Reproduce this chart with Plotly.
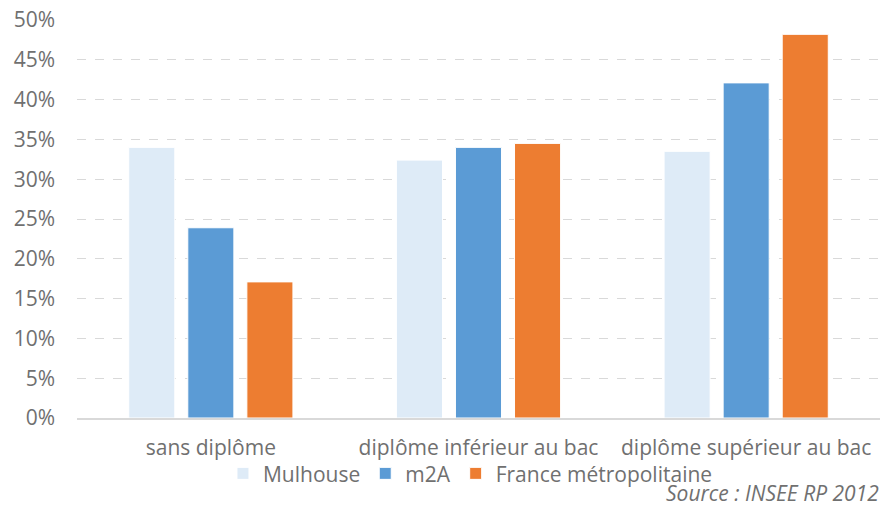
import plotly.graph_objects as go

categories = ["sans diplôme", "diplôme inférieur au bac", "diplôme supérieur au bac"]
series_names = ["Mulhouse", "m2A", "France métropolitaine"]
mulhouse = [0.340, 0.324, 0.335]
m2a = [0.239, 0.340, 0.421]
france = [0.171, 0.345, 0.482]
colors = ["#DEEBF7", "#5B9BD5", "#ED7D31"]
y_ticks = [0, 0.05, 0.10, 0.15, 0.20, 0.25, 0.30, 0.35, 0.40, 0.45, 0.50]

FONT = "Open Sans"
GRAY = "#707070"
FS = 21

fig = go.Figure()
for name, vals, col in zip(series_names, [mulhouse, m2a, france], colors):
    fig.add_trace(go.Bar(x=categories, y=vals, name=name,
                         marker=dict(color=col, line=dict(color="white", width=1))))

fig.update_layout(
    width=880, height=508,
    margin=dict(l=77, r=0, t=20, b=90, autoexpand=False),
    plot_bgcolor="white", paper_bgcolor="white",
    barmode="group", bargap=0.338, bargroupgap=0.22,
    font=dict(family=FONT, color=GRAY, size=FS),
    showlegend=True,
    legend=dict(orientation="h", x=0.49, xanchor="center", y=-0.14, yanchor="middle",
                font=dict(size=FS, color=GRAY), itemwidth=30, traceorder="normal",
                bgcolor="rgba(0,0,0,0)"),
    xaxis=dict(showline=True, linecolor="#D9D9D9", linewidth=2, ticks="",
               tickfont=dict(size=FS, color=GRAY), ticklabelstandoff=10, automargin=False),
    yaxis=dict(range=[0, 0.5], tickvals=y_ticks, tickformat=".0%",
               showgrid=True, gridcolor="#D9D9D9", griddash="dash", gridwidth=1,
               zeroline=False, showline=False, ticks="",
               tickfont=dict(size=FS, color=GRAY), ticklabelstandoff=21, automargin=False),
    annotations=[dict(text="<i>Source : INSEE RP 2012</i>", xref="paper", yref="paper",
                      x=1.0, y=-(508 - 418) / 398, xanchor="right", yanchor="bottom",
                      showarrow=False, borderpad=0,
                      font=dict(size=FS, color=GRAY, family=FONT))],
)

fig.write_html("out.html", config={"displayModeBar": False},
               post_script="document.body.style.margin='0';document.body.style.padding='0';")
